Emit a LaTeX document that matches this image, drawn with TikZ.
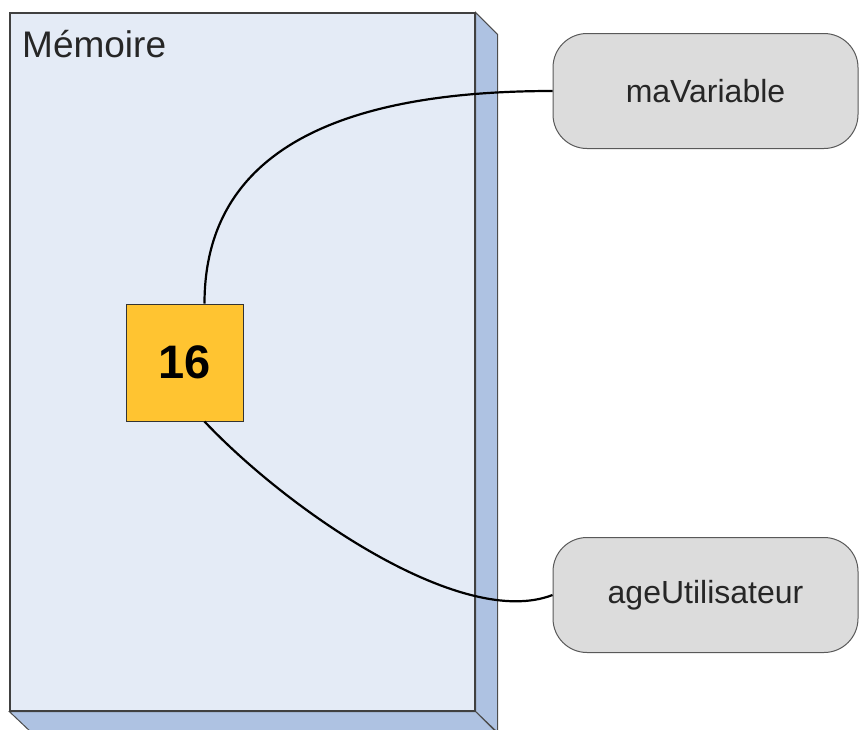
\documentclass[tikz,border=0pt]{standalone}
\usepackage{fontspec}
\setmainfont{Liberation Sans}
\usepackage{xcolor}
\usepackage{tikz}
\usetikzlibrary{positioning}

\definecolor{memface}{HTML}{E4EBF6}
\definecolor{memside}{HTML}{AEC2E2}
\definecolor{jaune}{HTML}{FFC431}
\definecolor{grisvar}{HTML}{DCDCDC}

\begin{document}
\begin{tikzpicture}[
        x=1pt, y=-1pt,
        memoire/.style={rectangle, fill=memface, draw=black!75, line width=1.2pt,
            minimum width=465pt, minimum height=698pt, inner sep=0pt},
        cote/.style={fill=memside, draw=black!70, line width=1pt},
        valeur/.style={rectangle, fill=jaune, draw=black!80, line width=1pt,
            minimum size=117pt, inner sep=0pt, font=\fontsize{47}{50}\selectfont\bfseries},
        nomvar/.style={rectangle, rounded corners=34pt, fill=grisvar, draw=black!65,
            line width=1pt, minimum width=305pt, minimum height=115pt,
            font=\fontsize{32}{36}\selectfont, text=black!85},
        lien/.style={line width=2.2pt, black}
    ]
    \useasboundingbox (0,0) rectangle (860,729);

    % ---------- profondeur de la memoire ----------
    \def\prof{22}

    % ---------- memoire ----------
    \node[memoire] (mem) at (242.5,362) {};
    \draw[cote] (mem.north east) -- ++(\prof,\prof) -- ++(0,698) -- (mem.south east) -- cycle;
    \draw[cote] (mem.south west) -- (mem.south east) -- ++(\prof,\prof) -- ++(-465,0) -- cycle;
    \draw[black!75, line width=1.2pt] (mem.north west) rectangle (mem.south east);
    \node[anchor=base west, inner sep=0pt, font=\fontsize{37}{42}\selectfont, text=black!85]
        (titre) at (22,57) {Mémoire};

    % ---------- valeur ----------
    \node[valeur] (val) at (184.5,362.5) {16};

    % ---------- variables ----------
    \node[nomvar] (var1) at (705.5,91) {maVariable};
    \node[nomvar] (var2) at (705.5,595) {ageUtilisateur};

    % ---------- liens ----------
    \draw[lien] ([xshift=20pt]val.north) .. controls +(0,-160) and +(-200,0) .. (var1.west);
    \draw[lien] ([xshift=20pt]val.south) .. controls +(85,90) and +(-90,35) .. (var2.west);

\end{tikzpicture}
\end{document}
